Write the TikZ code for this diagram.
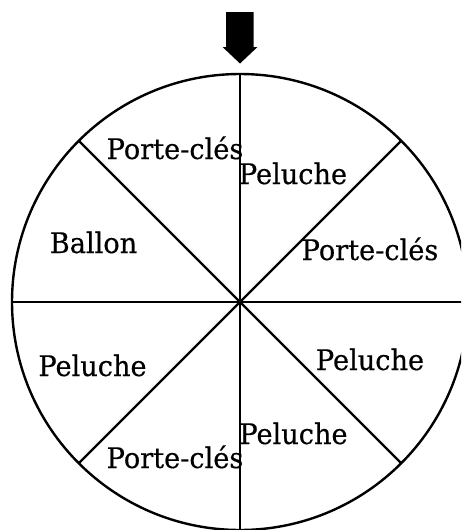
\documentclass[tikz,border=0pt]{standalone}
\usepackage{fontspec}
\setmainfont{DejaVu Serif}[FakeStretch=0.96,FakeBold=0.4]
\begin{document}
\begin{tikzpicture}[x=1pt,y=-1pt,
  rim/.style={draw,line width=2.4pt},
  spoke/.style={line width=2.2pt},
  lab/.style={anchor=base,inner sep=0pt,font=\fontsize{28.3}{32}\selectfont}]
\useasboundingbox (0,0) rectangle (461,530);
\clip (0,0) rectangle (461,530);
\node[rim,circle,minimum size=456pt,inner sep=0pt,outer sep=0pt] (wheel) at (240,302) {};
\draw[spoke] (wheel.90) -- (wheel.270);
\draw[spoke] (wheel.180) -- (wheel.0);
\draw[spoke] (wheel.45) -- (wheel.225);
\draw[spoke] (wheel.135) -- (wheel.315);
\fill (226,12) -- (253.5,12) -- (253.5,47) -- (257.5,47) -- (240,63.5) -- (222.5,47) -- (226,47) -- cycle;
\node[lab] (l1) at (175,159) {Porte-clés};
\node[lab] (l2) at (293,184) {Peluche};
\node[lab] (l3) at (370,260) {Porte-clés};
\node[lab] (l4) at (93.5,253) {Ballon};
\node[lab] (l5) at (92.5,376) {Peluche};
\node[lab] (l6) at (370,370) {Peluche};
\node[lab] (l7) at (293.5,444) {Peluche};
\node[lab] (l8) at (175,468) {Porte-clés};
\end{tikzpicture}
\end{document}
